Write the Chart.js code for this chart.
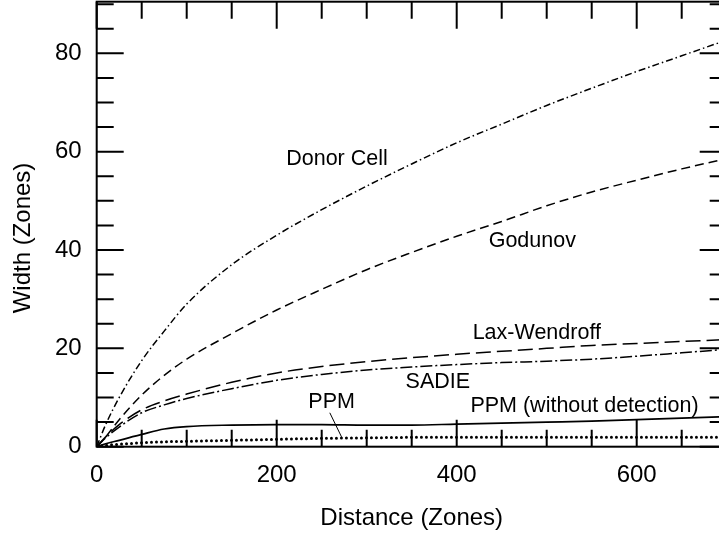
<!DOCTYPE html>
<html>
<head>
<meta charset="utf-8">
<script src="https://cdn.jsdelivr.net/npm/chart.js@4.4.1/dist/chart.umd.min.js"></script>
<style>
  html, body { margin: 0; padding: 0; background: #fff; overflow: hidden; }
  #wrap { width: 728px; height: 533px; }
</style>
</head>
<body>
<div id="wrap"><canvas id="widthChart" width="728" height="533"></canvas></div>
<script>
const distance = [0, 10, 25, 50, 75, 100, 150, 200, 250, 300, 350, 400, 450, 500, 550, 600, 650, 700];

// widths (zones)
const donorCell   = [0, 4.5, 10, 17.5, 23.5, 29, 37, 43, 48.2, 53, 57.5, 61.8, 65.6, 69.4, 72.9, 76.3, 79.5, 82.7];
const godunov     = [0, 2, 5.5, 10.5, 14.5, 17.8, 23, 27.8, 32, 36, 39.5, 42.8, 45.8, 49, 51.8, 54.2, 56.5, 58.6];
const laxWendroff = [0, 2, 4.5, 7.5, 9.3, 10.7, 13.1, 15, 16.3, 17.3, 18.1, 18.8, 19.4, 20, 20.6, 21, 21.4, 21.8];
const sadie       = [0, 1.8, 4, 6.9, 8.5, 9.8, 11.8, 13.5, 14.7, 15.6, 16.2, 16.7, 17.1, 17.4, 17.8, 18.4, 19.1, 19.8];
const ppm         = [0, 0.6, 1.3, 2.5, 3.6, 4.1, 4.4, 4.5, 4.5, 4.4, 4.4, 4.6, 4.8, 5.0, 5.2, 5.5, 5.8, 6.1];
const ppmNoDetect = [0, 0.3, 0.5, 0.8, 1.0, 1.1, 1.3, 1.5, 1.7, 1.8, 1.9, 1.9, 1.9, 1.9, 1.9, 1.9, 1.9, 1.9];

// axis ticks
const xTickLabels = [0, 200, 400, 600];
const yTickLabels = [0, 20, 40, 60, 80];
const xMinorStep = 50;
const yMinorStep = 5;

// curve labels: [text, distance, width at baseline]
const curveLabels = [
    ['Donor Cell', 267, 57.3],
    ['Godunov', 484, 40.7],
    ['Lax-Wendroff', 489, 21.9],
    ['SADIE', 379, 11.9],
    ['PPM', 261, 7.9],
    ['PPM (without detection)', 542, 7.1]
];
// leader from the PPM label
const ppmLeader = [[259, 6.9], [272, 2.0]];

const FONT = '"Liberation Sans", Arial, Helvetica, sans-serif';

function pts(ys) {
    return distance.map((x, i) => ({ x: x, y: ys[i] }));
}

function line(label, ys, dash, width, cap) {
    return {
        label: label,
        data: pts(ys),
        borderColor: '#000',
        borderWidth: width || 1.5,
        borderDash: dash,
        borderCapStyle: cap || 'butt',
        pointRadius: 0,
        fill: false,
        cubicInterpolationMode: 'monotone'
    };
}

const framePlugin = {
    id: 'frame',
    afterDatasetsDraw(chart) {
        const ctx = chart.ctx;
        const a = chart.chartArea;
        const xs = chart.scales.x;
        const ys = chart.scales.y;
        ctx.save();
        ctx.strokeStyle = '#000';
        ctx.lineWidth = 2;
        ctx.strokeRect(a.left, a.top, a.right - a.left, a.bottom - a.top);

        // inward ticks on all four sides
        ctx.beginPath();
        for (let v = 0; v <= xs.max; v += xMinorStep) {
            const px = xs.getPixelForValue(v);
            const len = (v % 200 === 0) ? 27 : 17;
            ctx.moveTo(px, a.bottom); ctx.lineTo(px, a.bottom - len);
            ctx.moveTo(px, a.top); ctx.lineTo(px, a.top + len);
        }
        for (let v = 0; v <= ys.max; v += yMinorStep) {
            const py = ys.getPixelForValue(v);
            const len = (v % 20 === 0) ? 27 : 17;
            ctx.moveTo(a.left, py); ctx.lineTo(a.left + len, py);
            ctx.moveTo(a.right, py); ctx.lineTo(a.right - len, py);
        }
        ctx.stroke();

        // PPM leader
        ctx.lineWidth = 1;
        ctx.beginPath();
        ctx.moveTo(xs.getPixelForValue(ppmLeader[0][0]), ys.getPixelForValue(ppmLeader[0][1]));
        ctx.lineTo(xs.getPixelForValue(ppmLeader[1][0]), ys.getPixelForValue(ppmLeader[1][1]));
        ctx.stroke();

        // curve labels
        ctx.fillStyle = '#000';
        ctx.font = '21.5px ' + FONT;
        ctx.textAlign = 'center';
        ctx.textBaseline = 'alphabetic';
        curveLabels.forEach(l => {
            ctx.fillText(l[0], xs.getPixelForValue(l[1]), ys.getPixelForValue(l[2]));
        });

        // axis titles
        ctx.font = '24px ' + FONT;
        ctx.fillText('Distance (Zones)', (a.left + a.right) / 2, 525);
        ctx.translate(30, 238);
        ctx.rotate(-Math.PI / 2);
        ctx.fillText('Width (Zones)', 0, 0);
        ctx.restore();
    }
};

const widthChart = new Chart(
    document.getElementById('widthChart'),
    {
        type: 'line',
        data: {
            datasets: [
                line('Donor Cell', donorCell, [7, 3, 1.5, 3]),
                line('Godunov', godunov, [9, 5]),
                line('Lax-Wendroff', laxWendroff, [15, 6]),
                line('SADIE', sadie, [12, 3, 2, 3]),
                line('PPM', ppm, [], 1.7),
                line('PPM (without detection)', ppmNoDetect, [0, 5], 3, 'round')
            ]
        },
        options: {
            responsive: false,
            animation: false,
            layout: { autoPadding: false, padding: { left: 0, right: 1.3, top: 1.7, bottom: 0 } },
            plugins: {
                legend: { display: false },
                tooltip: { enabled: false }
            },
            scales: {
                x: {
                    type: 'linear',
                    min: 0,
                    max: 700,
                    grid: { display: false, drawTicks: false },
                    border: { display: false },
                    afterBuildTicks: s => { s.ticks = xTickLabels.map(v => ({ value: v })); },
                    afterFit: s => { s.height = 86.3; s.paddingLeft = 0; s.paddingRight = 0; },
                    ticks: {
                        color: '#000',
                        padding: 14,
                        maxRotation: 0,
                        font: { family: FONT, size: 24 }
                    }
                },
                y: {
                    type: 'linear',
                    min: 0,
                    max: 90.5,
                    grid: { display: false, drawTicks: false },
                    border: { display: false },
                    afterBuildTicks: s => { s.ticks = yTickLabels.map(v => ({ value: v })); },
                    afterFit: s => { s.width = 96.7; s.paddingTop = 0; s.paddingBottom = 0; },
                    ticks: {
                        color: '#000',
                        padding: 15,
                        font: { family: FONT, size: 24 }
                    }
                }
            }
        },
        plugins: [framePlugin]
    }
);
</script>
</body>
</html>
